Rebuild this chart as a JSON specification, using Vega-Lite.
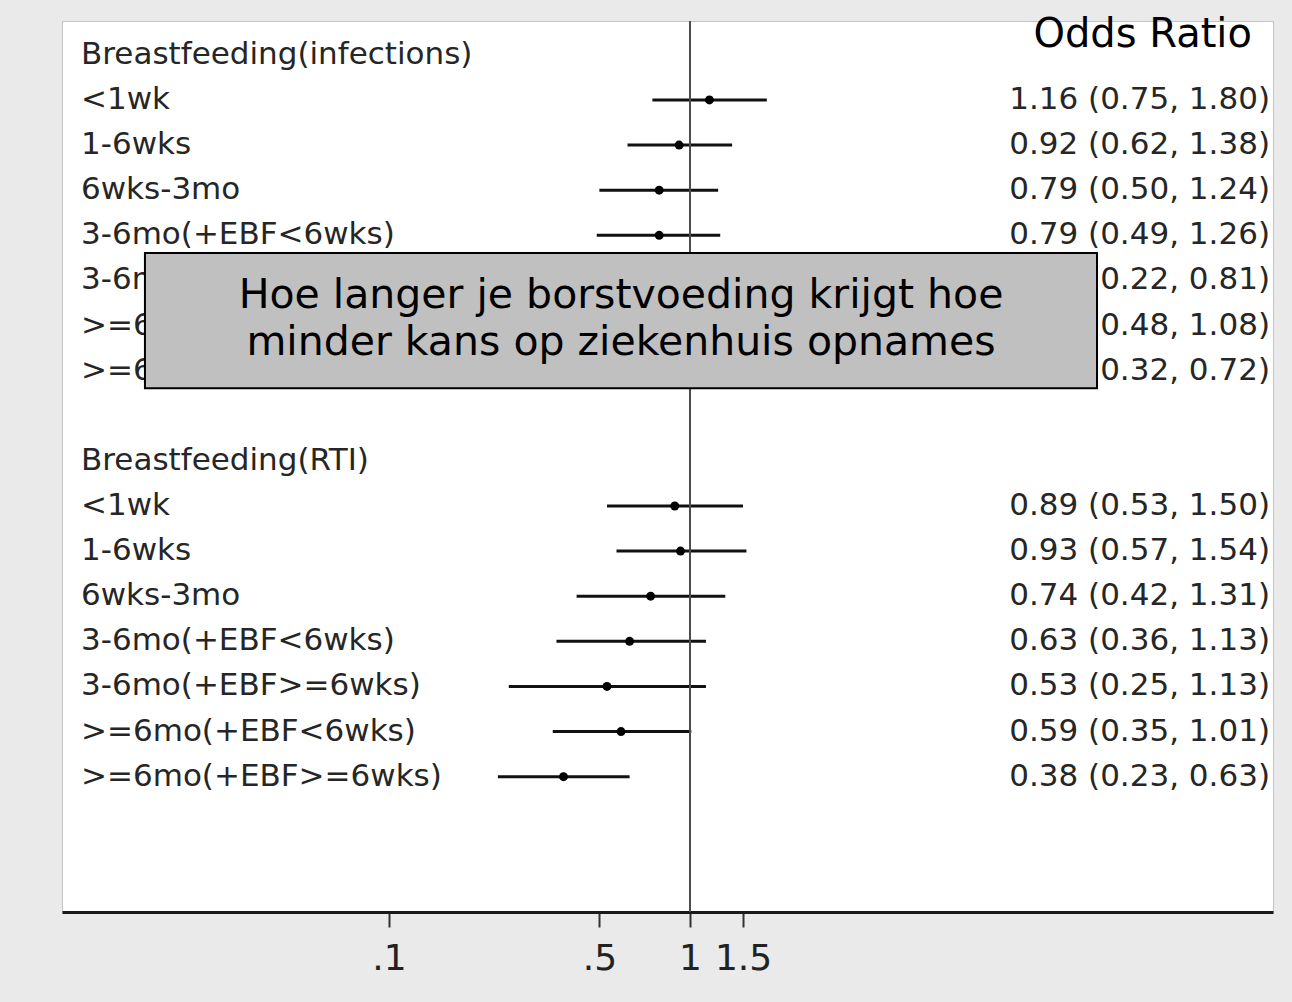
{
  "$schema": "https://vega.github.io/schema/vega-lite/v6.json",
  "width": 1211,
  "height": 891,
  "autosize": "none",
  "padding": {"left": 62, "top": 21, "right": 19, "bottom": 90},
  "background": "#eaeaea",
  "config": {
    "view": {"fill": "white", "stroke": "#c4c4c4", "strokeWidth": 1},
    "font": "DejaVu Sans"
  },
  "datasets": {
    "rows": [
      {"label": "Breastfeeding(infections)", "or": null, "lo": null, "hi": null},
      {"label": "<1wk", "or": 1.16, "lo": 0.75, "hi": 1.80},
      {"label": "1-6wks", "or": 0.92, "lo": 0.62, "hi": 1.38},
      {"label": "6wks-3mo", "or": 0.79, "lo": 0.50, "hi": 1.24},
      {"label": "3-6mo(+EBF<6wks)", "or": 0.79, "lo": 0.49, "hi": 1.26},
      {"label": "3-6mo(+EBF>=6wks)", "or": 0.42, "lo": 0.22, "hi": 0.81},
      {"label": ">=6mo(+EBF<6wks)", "or": 0.72, "lo": 0.48, "hi": 1.08},
      {"label": ">=6mo(+EBF>=6wks)", "or": 0.48, "lo": 0.32, "hi": 0.72},
      {"label": "", "or": null, "lo": null, "hi": null},
      {"label": "Breastfeeding(RTI)", "or": null, "lo": null, "hi": null},
      {"label": "<1wk", "or": 0.89, "lo": 0.53, "hi": 1.50},
      {"label": "1-6wks", "or": 0.93, "lo": 0.57, "hi": 1.54},
      {"label": "6wks-3mo", "or": 0.74, "lo": 0.42, "hi": 1.31},
      {"label": "3-6mo(+EBF<6wks)", "or": 0.63, "lo": 0.36, "hi": 1.13},
      {"label": "3-6mo(+EBF>=6wks)", "or": 0.53, "lo": 0.25, "hi": 1.13},
      {"label": ">=6mo(+EBF<6wks)", "or": 0.59, "lo": 0.35, "hi": 1.01},
      {"label": ">=6mo(+EBF>=6wks)", "or": 0.38, "lo": 0.23, "hi": 0.63}
    ]
  },
  "layer": [
    {
      "data": {"name": "rows"},
      "transform": [
        {"window": [{"op": "row_number", "as": "row"}]},
        {"filter": "isValid(datum.or)"}
      ],
      "mark": {"type": "rule", "color": "#111111", "strokeWidth": 3},
      "encoding": {
        "x": {
          "field": "lo",
          "type": "quantitative",
          "scale": {"type": "log", "domain": [0.008197, 86.47], "nice": false, "zero": false},
          "axis": {
            "title": null,
            "grid": false,
            "values": [0.1, 0.5, 1, 1.5],
            "labelExpr": "datum.value < 1 ? replace(format(datum.value, '.1f'), '0.', '.') : format(datum.value, '~g')",
            "domainColor": "#1a1a1a",
            "domainWidth": 3,
            "tickColor": "#333333",
            "tickWidth": 2,
            "tickSize": 15,
            "labelFont": "DejaVu Sans",
            "labelFontSize": 36,
            "labelColor": "#222222",
            "labelPadding": 14
          }
        },
        "x2": {"field": "hi"},
        "y": {
          "field": "row",
          "type": "quantitative",
          "scale": {"domain": [20, 0.25], "nice": false, "zero": false},
          "axis": null
        }
      }
    },
    {
      "data": {"values": [{"ref": 1}]},
      "mark": {"type": "rule", "color": "#4d4d4d", "strokeWidth": 2},
      "encoding": {"x": {"field": "ref", "type": "quantitative"}}
    },
    {
      "data": {"name": "rows"},
      "transform": [
        {"window": [{"op": "row_number", "as": "row"}]},
        {"filter": "isValid(datum.or)"}
      ],
      "mark": {"type": "point", "shape": "circle", "filled": true, "color": "#000000", "size": 80, "opacity": 1},
      "encoding": {
        "x": {"field": "or", "type": "quantitative"},
        "y": {"field": "row", "type": "quantitative"}
      }
    },
    {
      "data": {"name": "rows"},
      "transform": [{"window": [{"op": "row_number", "as": "row"}]}],
      "mark": {"type": "text", "align": "left", "baseline": "middle", "fontSize": 31, "color": "#262626", "font": "DejaVu Sans"},
      "encoding": {
        "x": {"datum": 0.00948},
        "y": {"field": "row", "type": "quantitative"},
        "text": {"field": "label"}
      }
    },
    {
      "data": {"name": "rows"},
      "transform": [
        {"window": [{"op": "row_number", "as": "row"}]},
        {"filter": "isValid(datum.or)"},
        {"calculate": "format(datum.or, '.2f') + ' (' + format(datum.lo, '.2f') + ', ' + format(datum.hi, '.2f') + ')'", "as": "ci"}
      ],
      "mark": {"type": "text", "align": "right", "baseline": "middle", "fontSize": 31, "color": "#262626", "font": "DejaVu Sans"},
      "encoding": {
        "x": {"datum": 84.5},
        "y": {"field": "row", "type": "quantitative"},
        "text": {"field": "ci"}
      }
    },
    {
      "data": {"values": [{"note": "Hoe langer je borstvoeding krijgt hoe\nminder kans op ziekenhuis opnames"}]},
      "layer": [
        {
          "mark": {"type": "rect", "fill": "#c0c0c0", "stroke": "#000000", "strokeWidth": 2},
          "encoding": {
            "x": {"datum": 0.01546},
            "x2": {"datum": 22.5},
            "y": {"datum": 5.39},
            "y2": {"datum": 8.39}
          }
        },
        {
          "mark": {"type": "text", "align": "center", "baseline": "middle", "fontSize": 41, "lineHeight": 47, "lineBreak": "\n", "color": "#000000", "font": "DejaVu Sans"},
          "encoding": {
            "x": {"datum": 0.59},
            "y": {"datum": 6.35},
            "text": {"field": "note"}
          }
        }
      ]
    },
    {
      "data": {"values": [{"title": "Odds Ratio"}]},
      "mark": {"type": "text", "align": "right", "baseline": "middle", "fontSize": 40, "color": "#000000", "font": "DejaVu Sans"},
      "encoding": {
        "x": {"datum": 73.6},
        "y": {"datum": 0.55},
        "text": {"field": "title"}
      }
    }
  ]
}
